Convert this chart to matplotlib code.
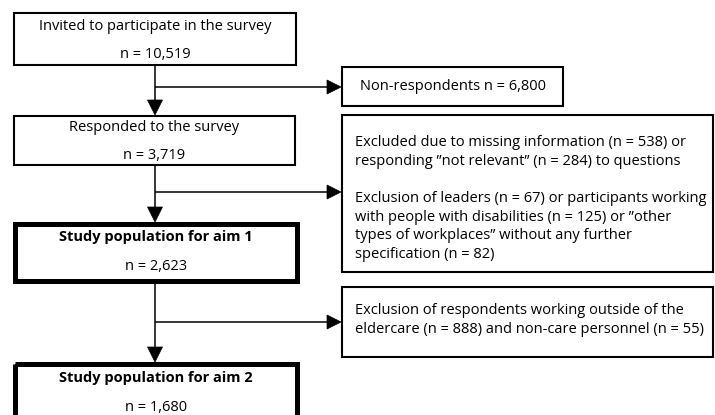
import matplotlib
matplotlib.use("Agg")
import matplotlib.pyplot as plt
from matplotlib.patches import Rectangle, Polygon

plt.rcParams['font.family'] = ['Open Sans', 'DejaVu Sans']

# ---- data ----
main_labels = ["Invited to participate in the survey",
               "Responded to the survey",
               "Study population for aim 1",
               "Study population for aim 2"]
main_counts = ["10,519", "3,719", "2,623", "1,680"]
main_bold = [False, False, True, True]

excl_texts = [
    "Non-respondents n = 6,800",
    "Excluded due to missing information (n = 538) or\n"
    "responding \u201dnot relevant\u201d (n = 284) to questions\n\n"
    "Exclusion of leaders (n = 67) or participants working\n"
    "with people with disabilities (n = 125) or \u201dother\n"
    "types of workplaces\u201d without any further\n"
    "specification (n = 82)",
    "Exclusion of respondents working outside of the\n"
    "eldercare (n = 888) and non-care personnel (n = 55)",
]

# ---- layout (pixels) ----
W, H = 715, 415
fig = plt.figure(figsize=(W / 100, H / 100), dpi=100)
ax = fig.add_axes([0, 0, 1, 1])
ax.set_xlim(0, W)
ax.set_ylim(H, 0)
ax.axis('off')

FS = 10.5
main_boxes = [(14, 13, 282, 52), (14, 116, 281, 49), (15, 224, 282, 57), (15, 364, 282, 60)]
label_y = [[26, 54], [127, 155], [237, 266], [378, 407]]
for (x, y, w, h), lab, cnt, bold, ly in zip(main_boxes, main_labels, main_counts, main_bold, label_y):
    lw = 3.6 if bold else 1.5
    ax.add_patch(Rectangle((x, y), w, h, fill=False, ec='black', lw=lw, joinstyle='miter', zorder=3))
    ax.text(x + w / 2, ly[0], lab, ha='center', va='center', fontsize=FS,
            fontweight='bold' if bold else 'normal')
    ax.text(x + w / 2, ly[1], "n = " + cnt, ha='center', va='center', fontsize=FS)

excl_boxes = [(342, 67, 221, 39), (342, 115, 371, 157), (342, 287, 371, 70)]
text_dy = [0, 5, -2]
for i, ((x, y, w, h), txt) in enumerate(zip(excl_boxes, excl_texts)):
    ax.add_patch(Rectangle((x, y), w, h, fill=False, ec='black', lw=1.5, joinstyle='miter', zorder=3))
    if i == 0:
        ax.text(x + w / 2, y + h / 2, txt, ha='center', va='center', fontsize=FS)
    else:
        ax.text(355, y + h / 2 + text_dy[i], txt, ha='left', va='center', fontsize=FS, linespacing=1.32)

cx = 155
def arrow_down(y0, y1):
    ax.plot([cx, cx], [y0, y1 - 14], color='black', lw=1.1, solid_capstyle='butt')
    ax.add_patch(Polygon([(cx - 7.5, y1 - 15), (cx + 7.5, y1 - 15), (cx, y1)], closed=True,
                         fc='black', ec='black', lw=0.5, zorder=4))

def arrow_right(y, x1=341):
    ax.plot([cx, x1 - 13], [y, y], color='black', lw=1.1, solid_capstyle='butt')
    ax.add_patch(Polygon([(x1 - 14, y - 7), (x1 - 14, y + 7), (x1, y)], closed=True,
                         fc='black', ec='black', lw=0.5, zorder=4))

arrow_down(65, 115)
arrow_down(165, 222)
arrow_down(282, 362)
arrow_right(87)
arrow_right(192)
arrow_right(322)

fig.savefig("out.png", dpi=100)
